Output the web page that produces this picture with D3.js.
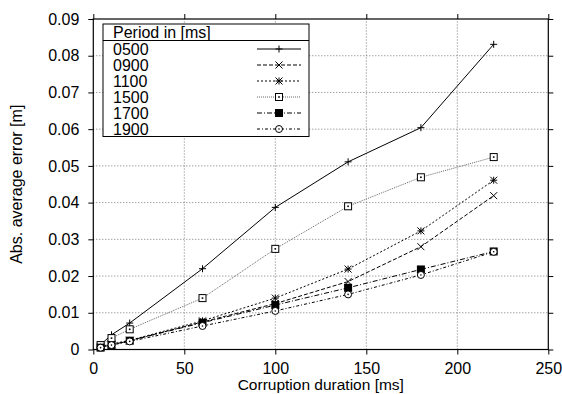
<!DOCTYPE html>
<html><head><meta charset="utf-8">
<script src="https://cdn.jsdelivr.net/npm/d3@7"></script>
<style>
body{margin:0;background:#fff;}
text{font-family:"Liberation Sans",Arial,Helvetica,sans-serif;fill:#000;}
</style></head>
<body><svg id="c" width="562" height="394"></svg>
<script>
const durations = [4, 10, 20, 60, 100, 140, 180, 220];
const periods = ["0500", "0900", "1100", "1500", "1700", "1900"];
const s0500 = [0.0013, 0.0040, 0.0072, 0.0220, 0.0387, 0.0511, 0.0604, 0.0831];
const s0900 = [0.0006, 0.0013, 0.0024, 0.0075, 0.0125, 0.0185, 0.0280, 0.0419];
const s1100 = [0.0008, 0.0015, 0.0025, 0.0078, 0.0140, 0.0219, 0.0323, 0.0461];
const s1500 = [0.0012, 0.0031, 0.0055, 0.0140, 0.0274, 0.0390, 0.0469, 0.0524];
const s1700 = [0.0005, 0.0012, 0.0024, 0.0073, 0.0121, 0.0168, 0.0218, 0.0267];
const s1900 = [0.0005, 0.0012, 0.0022, 0.0064, 0.0105, 0.0150, 0.0203, 0.0266];
const xTicks = [0, 50, 100, 150, 200, 250];
const yTicks = [0, 0.01, 0.02, 0.03, 0.04, 0.05, 0.06, 0.07, 0.08, 0.09];
const xLabel = "Corruption duration [ms]";
const yLabel = "Abs. average error [m]";
const legendTitle = "Period in [ms]";

const seriesValues = [s0500, s0900, s1100, s1500, s1700, s1900];
const styles = [
  {dash: null, color: "#000", marker: "plus"},
  {dash: "4,2", color: "#000", marker: "cross"},
  {dash: "2,2", color: "#000", marker: "star"},
  {dash: "1,1", color: "#666", marker: "boxdot"},
  {dash: "5,2,1,2", color: "#000", marker: "fillbox"},
  {dash: "3,2,1,2", color: "#000", marker: "circle"}
];

const svg = d3.select("#c");
const L = 93.3, R = 548.3, T = 19, B = 349.5;
const x = d3.scaleLinear().domain([0, 250]).range([L, R]);
const y = d3.scaleLinear().domain([0, 0.09]).range([B, T]);

// grid
const grid = svg.append("g").attr("stroke", "#777").attr("stroke-width", 1).attr("stroke-dasharray", "1,2");
xTicks.slice(1, -1).forEach(t => grid.append("line").attr("x1", x(t)).attr("x2", x(t)).attr("y1", B).attr("y2", T));
yTicks.slice(1, -1).forEach(t => grid.append("line").attr("y1", y(t)).attr("y2", y(t)).attr("x1", L).attr("x2", R));

// axes
const fmtY = d => d === 0 ? "0" : d3.format(".2f")(d);
const axB = svg.append("g").attr("transform", `translate(0,${B})`).call(d3.axisBottom(x).tickValues(xTicks).tickSize(5).tickPadding(8).tickFormat(d3.format("d")));
const axT = svg.append("g").attr("transform", `translate(0,${T})`).call(d3.axisTop(x).tickValues(xTicks).tickSize(5).tickFormat(""));
const axL = svg.append("g").attr("transform", `translate(${L},0)`).call(d3.axisLeft(y).tickValues(yTicks).tickSize(5).tickPadding(9).tickFormat(fmtY));
const axR = svg.append("g").attr("transform", `translate(${R},0)`).call(d3.axisRight(y).tickValues(yTicks).tickSize(5).tickFormat(""));
[axB, axT, axL, axR].forEach(a => {
  a.select(".domain").remove();
  a.selectAll("line").attr("stroke", "#000");
  a.selectAll("text").style("font-size", "16px").style("font-family", "'Liberation Sans',Arial,sans-serif").attr("fill", "#000");
});
axB.selectAll("text").attr("dy", "0.71em");
svg.append("rect").attr("x", L).attr("y", T).attr("width", R - L).attr("height", B - T)
  .attr("fill", "none").attr("stroke", "#000").attr("stroke-width", 1.2);

// axis labels
svg.append("text").attr("x", (L + R) / 2).attr("y", 389.5).attr("text-anchor", "middle").style("font-size", "15.5px").text(xLabel);
svg.append("text").attr("transform", `translate(22,${(T + B) / 2}) rotate(-90)`).attr("text-anchor", "middle").style("font-size", "16px").text(yLabel);

function marker(g, type, cx, cy, color) {
  const s = 3.5;
  if (type === "plus") {
    g.append("path").attr("d", `M${cx - s},${cy}H${cx + s}M${cx},${cy - s}V${cy + s}`).attr("stroke", color).attr("stroke-width", 1).attr("fill", "none");
  } else if (type === "cross") {
    g.append("path").attr("d", `M${cx - s},${cy - s}L${cx + s},${cy + s}M${cx - s},${cy + s}L${cx + s},${cy - s}`).attr("stroke", color).attr("stroke-width", 1).attr("fill", "none");
  } else if (type === "star") {
    g.append("path").attr("d", `M${cx - s},${cy}H${cx + s}M${cx},${cy - s}V${cy + s}M${cx - s},${cy - s}L${cx + s},${cy + s}M${cx - s},${cy + s}L${cx + s},${cy - s}`).attr("stroke", color).attr("stroke-width", 1).attr("fill", "none");
  } else if (type === "boxdot") {
    g.append("rect").attr("x", cx - s).attr("y", cy - s).attr("width", 2 * s).attr("height", 2 * s).attr("fill", "#fff").attr("stroke", "#000").attr("stroke-width", 1);
    g.append("rect").attr("x", cx - 0.8).attr("y", cy - 0.8).attr("width", 1.6).attr("height", 1.6).attr("fill", "#000");
  } else if (type === "fillbox") {
    g.append("rect").attr("x", cx - 4).attr("y", cy - 4).attr("width", 8).attr("height", 8).attr("fill", "#000");
  } else if (type === "circle") {
    g.append("circle").attr("cx", cx).attr("cy", cy).attr("r", s).attr("fill", "#fff").attr("stroke", "#000").attr("stroke-width", 1);
    g.append("circle").attr("cx", cx).attr("cy", cy).attr("r", 0.8).attr("fill", "#000");
  }
}

// series
const line = d3.line().x((d, i) => x(durations[i])).y(d => y(d));
seriesValues.forEach((vals, k) => {
  const st = styles[k];
  const g = svg.append("g");
  g.append("path").datum(vals).attr("d", line).attr("fill", "none").attr("stroke", st.color).attr("stroke-width", 1)
    .attr("stroke-dasharray", st.dash);
  vals.forEach((v, i) => marker(g, st.marker, x(durations[i]), y(v), "#000"));
});

// legend
const lg = svg.append("g");
const lx0 = 103, lx1 = 309, ly0 = 24, ly1 = 136.5, lhead = 40.5;
lg.append("rect").attr("x", lx0).attr("y", ly0).attr("width", lx1 - lx0).attr("height", ly1 - ly0).attr("fill", "#fff").attr("stroke", "#000").attr("stroke-width", 1);
lg.append("line").attr("x1", lx0).attr("x2", lx1).attr("y1", lhead).attr("y2", lhead).attr("stroke", "#000").attr("stroke-width", 1);
lg.append("text").attr("x", 113).attr("y", 37.5).style("font-size", "16px").text(legendTitle);
periods.forEach((p, k) => {
  const yy = 49 + k * 16;
  const st = styles[k];
  lg.append("text").attr("x", 113).attr("y", yy + 5.5).style("font-size", "16px").text(p);
  lg.append("line").attr("x1", 257).attr("x2", 301).attr("y1", yy).attr("y2", yy).attr("stroke", st.color).attr("stroke-width", 1).attr("stroke-dasharray", st.dash);
  marker(lg, st.marker, 279, yy, "#000");
});
</script></body></html>
